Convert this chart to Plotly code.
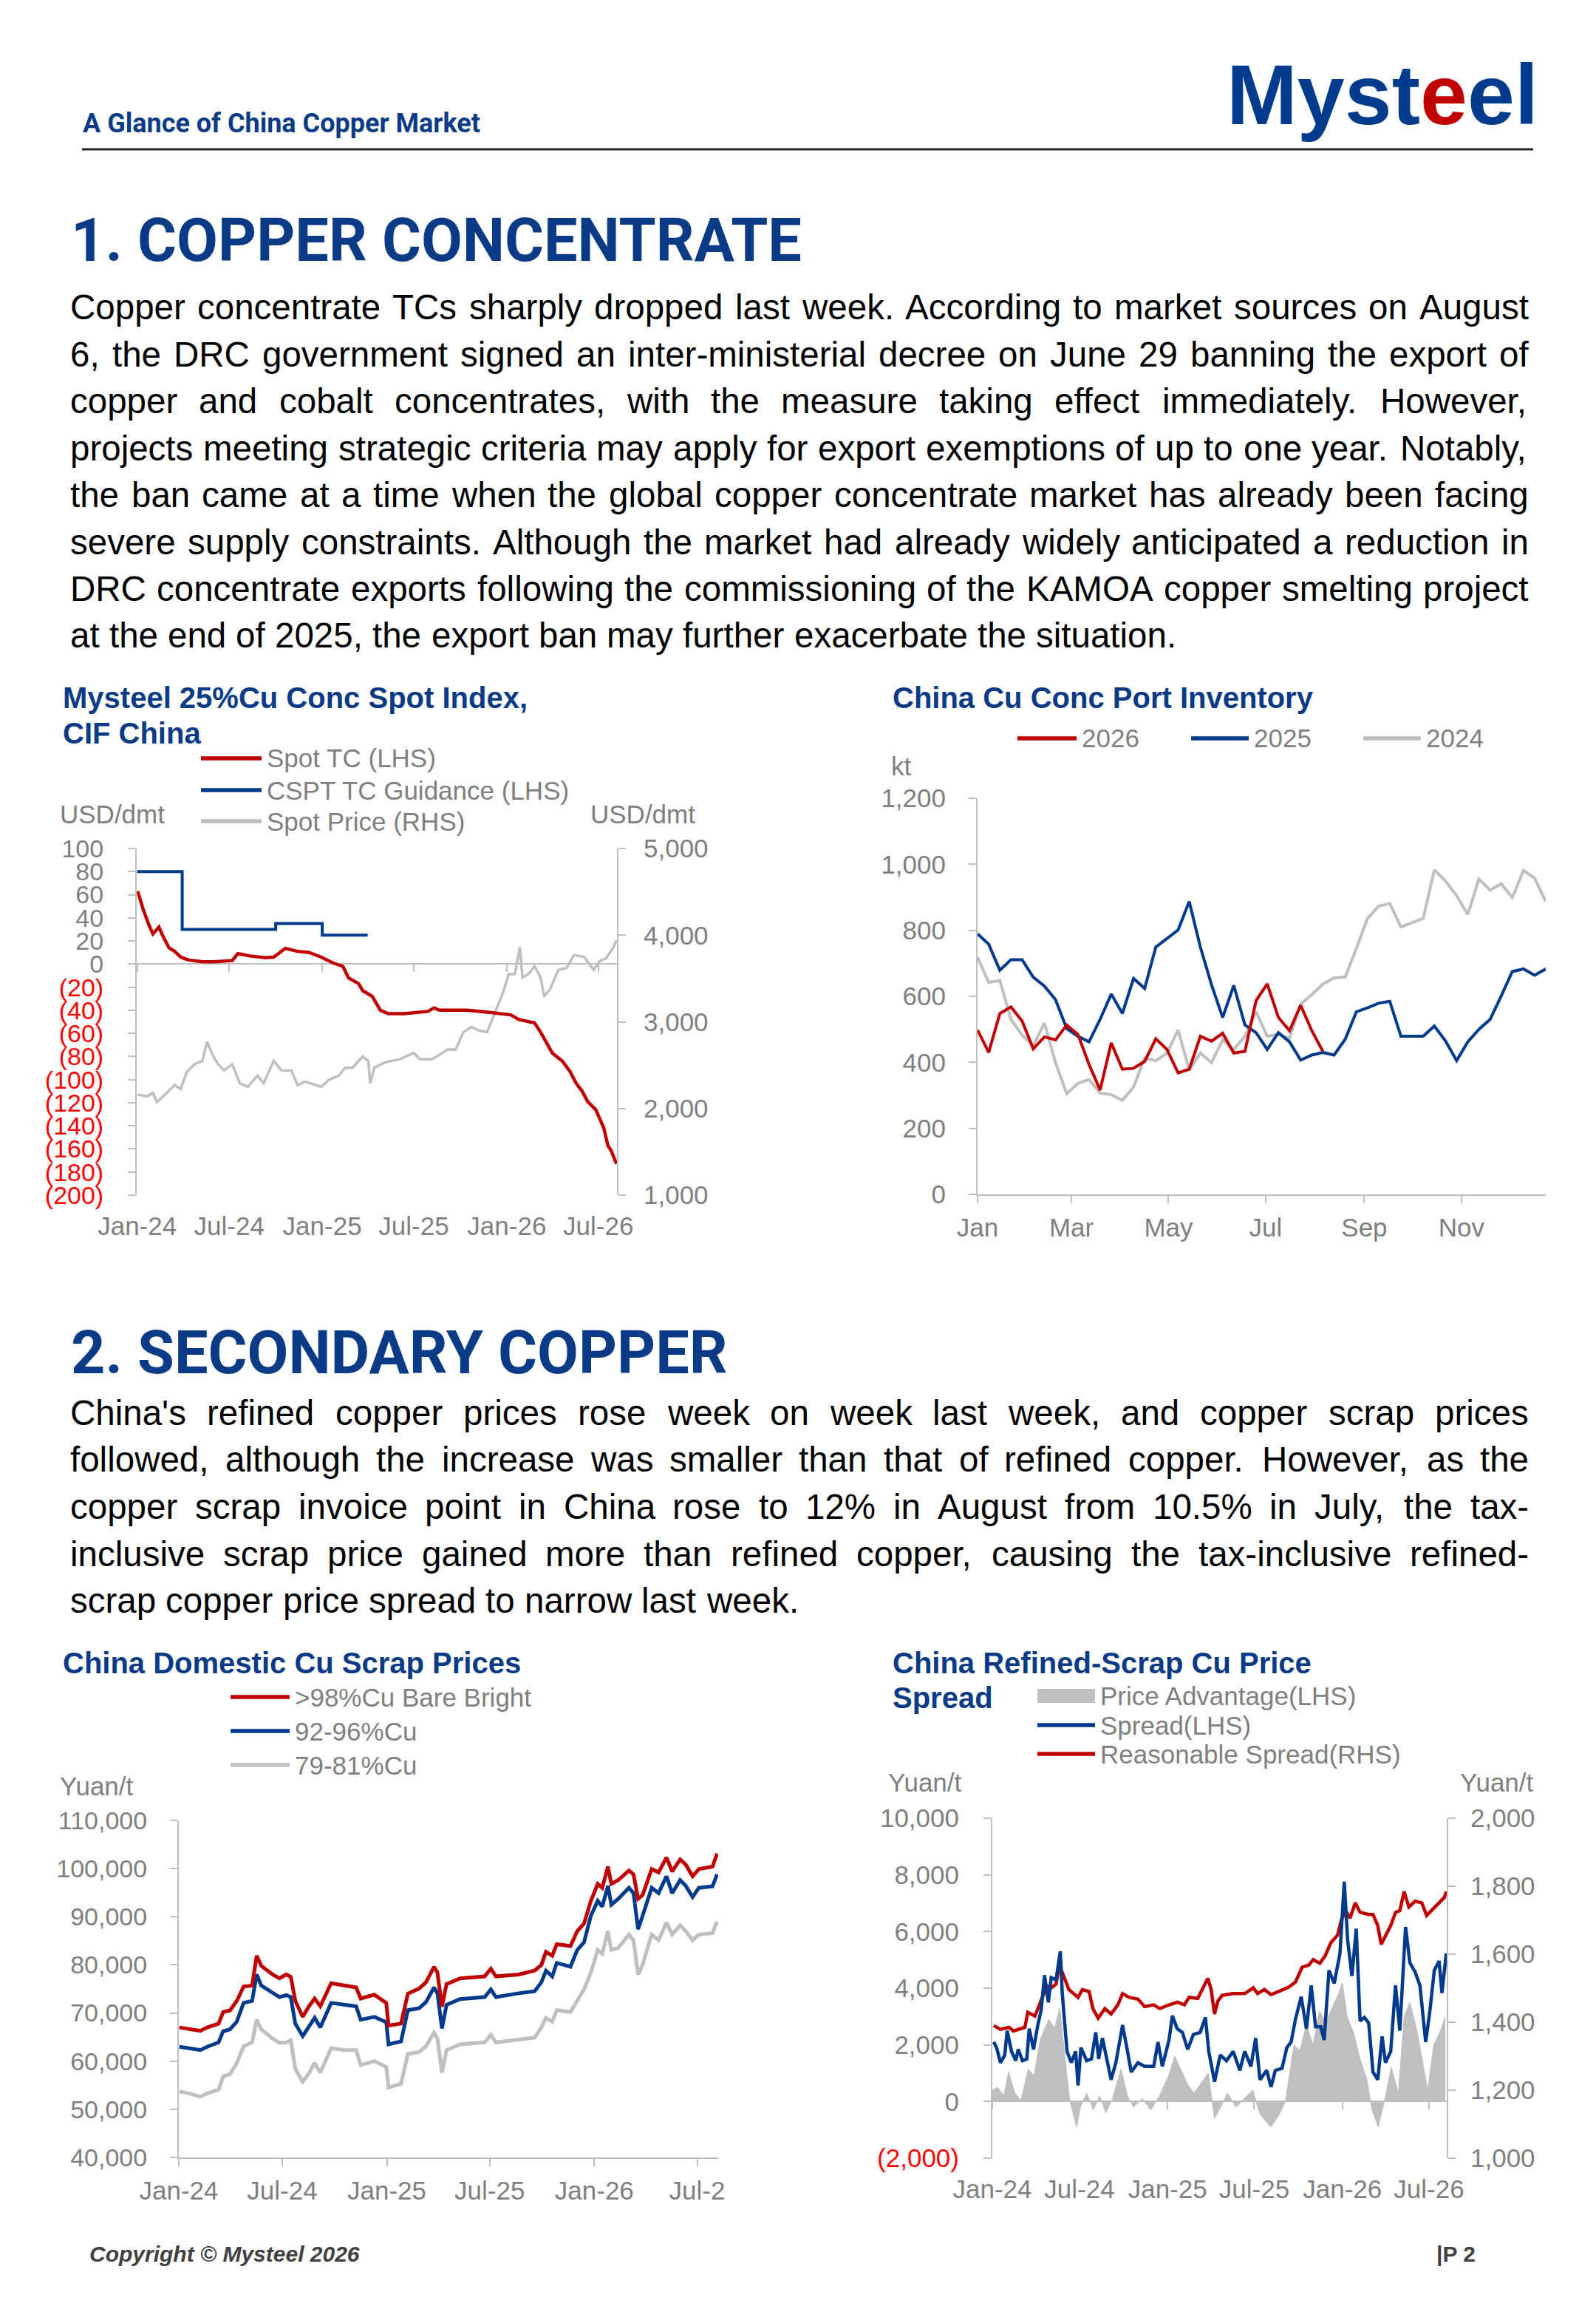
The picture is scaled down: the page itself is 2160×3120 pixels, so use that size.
import datetime as dt
import plotly.graph_objects as go

W, H = 2160, 3120


def px(x):
    return x / W


def py(y):
    return 1 - y / H


NAVY = '#0B3A86'
RED = '#C00000'
BLUE = '#003A8C'
GREY = '#BFBFBF'
TXT = '#7F7F7F'
BODY_FONT = 'Liberation Sans, Arial, sans-serif'
HEAD_FONT = 'Roboto, Liberation Sans, sans-serif'

# ---------------- chart 1: spot index ----------------
spot_tc_dates = ['2024-01-02', '2024-01-13', '2024-01-24', '2024-02-01', '2024-02-13', '2024-02-21', '2024-03-04',
                 '2024-03-15', '2024-03-27', '2024-04-12', '2024-05-09', '2024-06-01', '2024-07-07', '2024-07-18',
                 '2024-08-11', '2024-09-11', '2024-09-27', '2024-10-20', '2024-11-13', '2024-12-06', '2024-12-30',
                 '2025-01-22', '2025-02-11', '2025-02-22', '2025-03-14', '2025-03-22', '2025-04-10', '2025-04-26',
                 '2025-05-12', '2025-06-12', '2025-07-29', '2025-08-10', '2025-08-21', '2025-10-15', '2025-12-01',
                 '2026-01-09', '2026-01-25', '2026-02-25', '2026-03-09', '2026-03-20', '2026-04-01', '2026-04-21',
                 '2026-05-06', '2026-05-18', '2026-05-30', '2026-06-10', '2026-06-26', '2026-07-12', '2026-07-20',
                 '2026-07-27', '2026-08-06']
spot_tc = [63, 47, 34, 26, 32, 24, 14, 11, 6, 3.5, 2, 2, 3, 9, 7, 5.5, 6, 13.6, 11, 10, 6,
           1, -2, -12, -17, -23, -28, -40, -43, -43, -41, -38, -40, -40, -42,
           -44, -48, -51, -59, -67, -77, -84, -93, -103, -110, -119, -126, -142, -157, -162, -173]

cspt_dates = ['2024-01-01', '2024-03-30', '2024-10-01', '2025-01-01', '2025-04-01']
cspt_tc = [80, 30, 35, 25, 25]

spot_price_dates = ['2024-01-02', '2024-01-21', '2024-02-01', '2024-02-09', '2024-02-25', '2024-03-15', '2024-03-27',
                    '2024-04-08', '2024-04-23', '2024-05-09', '2024-05-18', '2024-05-29', '2024-06-09', '2024-06-21',
                    '2024-07-07', '2024-07-22', '2024-08-07', '2024-08-26', '2024-09-07', '2024-09-27', '2024-10-12',
                    '2024-11-01', '2024-11-13', '2024-11-28', '2024-12-30', '2025-01-14', '2025-02-03', '2025-02-15',
                    '2025-03-02', '2025-03-22', '2025-04-02', '2025-04-06', '2025-04-14', '2025-05-04', '2025-06-04',
                    '2025-07-01', '2025-07-13', '2025-08-06', '2025-08-21', '2025-09-06', '2025-09-22', '2025-10-07',
                    '2025-10-23', '2025-11-07', '2025-11-23', '2025-12-09', '2025-12-24', '2026-01-05', '2026-01-17',
                    '2026-01-27', '2026-02-01', '2026-02-13', '2026-02-25', '2026-03-09', '2026-03-16', '2026-03-28',
                    '2026-04-13', '2026-04-29', '2026-05-14', '2026-06-03', '2026-06-22', '2026-07-04', '2026-07-16',
                    '2026-07-31', '2026-08-06']
spot_price = [2160, 2140, 2180, 2075, 2160, 2270, 2225, 2420, 2510, 2550, 2770, 2620, 2510, 2440, 2510, 2290,
              2250, 2380, 2290, 2550, 2440, 2440, 2270, 2310, 2250, 2330, 2380, 2470, 2470, 2600, 2550, 2290,
              2470, 2530, 2570, 2640, 2570, 2570, 2620, 2680, 2680, 2880, 2940, 2900, 2880, 3120, 3330, 3550,
              3550, 3860, 3510, 3550, 3640, 3510, 3290, 3380, 3600, 3620, 3770, 3750, 3600, 3700, 3730, 3860, 3940]

ticks_6m = ['2024-01-01', '2024-07-01', '2025-01-01', '2025-07-01', '2026-01-01', '2026-07-01']
ticks_6m_text = ['Jan-24', 'Jul-24', 'Jan-25', 'Jul-25', 'Jan-26', 'Jul-26']

# ---------------- chart 2: port inventory (weekly, kt) ----------------
inv_2026 = [498, 430, 548, 568, 525, 441, 477, 468, 513, 485, 394, 316, 459, 379, 382, 403, 471, 439, 368, 379,
            479, 464, 488, 428, 433, 587, 638, 536, 496, 573, 496, 433]
inv_2025 = [789, 758, 679, 711, 711, 658, 631, 590, 502, 479, 462, 530, 607, 548, 654, 624, 749, 776, 801, 887,
            749, 635, 536, 633, 513, 490, 439, 490, 462, 407, 422, 430, 422, 470, 553, 565, 579, 585, 479, 479,
            479, 510, 465, 405, 462, 500, 530, 601, 675, 683, 664, 683]
inv_2024 = [719, 642, 648, 530, 482, 451, 519, 399, 305, 336, 348, 307, 302, 285, 325, 413, 405, 428, 498, 376,
            428, 399, 468, 439, 479, 553, 479, 485, 473, 576, 605, 637, 656, 658, 745, 836, 873, 881, 810, 824,
            836, 983, 949, 905, 848, 955, 922, 941, 899, 981, 958, 887]
month_ticks = ['2025-01-01', '2025-03-01', '2025-05-01', '2025-07-01', '2025-09-01', '2025-11-01']
month_text = ['Jan', 'Mar', 'May', 'Jul', 'Sep', 'Nov']

# ---------------- chart 3: scrap prices ----------------
scrap_dates = ['2024-01-02', '2024-01-19', '2024-02-08', '2024-02-20', '2024-03-11', '2024-03-19', '2024-03-31',
               '2024-04-12', '2024-04-24', '2024-05-09', '2024-05-17', '2024-05-25', '2024-06-14', '2024-06-26',
               '2024-07-08', '2024-07-16', '2024-07-24', '2024-08-06', '2024-08-17', '2024-08-27', '2024-09-06',
               '2024-09-25', '2024-10-19', '2024-11-08', '2024-11-16', '2024-12-10', '2024-12-31', '2025-01-04',
               '2025-01-26', '2025-02-07', '2025-02-27', '2025-03-11', '2025-03-25', '2025-03-31', '2025-04-08',
               '2025-04-16', '2025-05-10', '2025-06-22', '2025-07-03', '2025-07-12', '2025-08-21', '2025-09-18',
               '2025-09-30', '2025-10-08', '2025-10-19', '2025-10-27', '2025-11-20', '2025-12-02', '2025-12-14',
               '2025-12-26', '2026-01-07', '2026-01-15', '2026-01-25', '2026-01-31', '2026-02-12', '2026-03-03',
               '2026-03-11', '2026-03-19', '2026-03-27', '2026-04-12', '2026-04-24', '2026-05-08', '2026-05-18',
               '2026-06-01', '2026-06-11', '2026-06-23', '2026-07-04', '2026-07-28', '2026-08-05']
bare_bright = [67000, 66700, 66300, 67000, 67800, 70200, 70500, 72500, 75500, 75700,
               81900, 79800, 78000, 77200, 78000, 77500, 72500, 69200, 71400, 73000,
               71400, 76200, 75700, 75300, 73000, 73800, 72100, 67400, 67800, 74000,
               75100, 76400, 79600, 78400, 71300, 76000, 77200, 77600, 79200, 77600,
               78000, 78800, 80000, 82700, 81900, 84300, 83900, 87000, 88600, 93300,
               96800, 96000, 100400, 96800, 97600, 99600, 98800, 93700, 94500, 99900,
               99200, 102300, 99400, 101900, 100800, 98400, 99900, 100400, 103100]
cu_92_96 = [63000, 62700, 62300, 63000, 63900, 66200, 66600, 68200, 72100, 72500,
            78000, 75700, 74100, 73300, 73700, 73300, 67800, 65200, 67200, 69000,
            67000, 72100, 71700, 71400, 68600, 69200, 68100, 63500, 64100, 70600,
            71000, 72300, 75300, 74100, 66800, 71700, 72900, 73300, 74900, 73300,
            74100, 74500, 76400, 78800, 77600, 80400, 79600, 83100, 84700, 90200,
            93300, 92100, 96400, 92500, 93700, 96000, 94900, 87400, 90200, 96000,
            94900, 98400, 94900, 97600, 96400, 94100, 96000, 96300, 98800]
cu_79_81 = [53700, 53300, 52600, 53300, 54100, 56800, 57300, 59600, 63100, 63900,
            68600, 66600, 64700, 63800, 63900, 64300, 58400, 55700, 57500, 59600,
            57600, 62700, 62300, 62300, 59200, 60000, 58800, 54500, 55300, 61500,
            61900, 63100, 65900, 64700, 57600, 62300, 63500, 63900, 65500, 63900,
            64500, 64900, 67000, 69000, 68200, 70600, 70200, 72500, 74900, 78400,
            83100, 82300, 87000, 83100, 83500, 86300, 85100, 78000, 80000, 86300,
            85100, 88800, 86300, 88200, 87000, 85100, 86300, 86600, 89000]
scrap_tick_text = ['Jan-24', 'Jul-24', 'Jan-25', 'Jul-25', 'Jan-26', 'Jul-2']

# ---------------- chart 4: refined-scrap spread ----------------
spread_dates = ['2024-01-04', '2024-01-10', '2024-01-18', '2024-01-27', '2024-02-01', '2024-02-10', '2024-02-19',
                '2024-02-24', '2024-03-04', '2024-03-13', '2024-03-18', '2024-03-27', '2024-04-05', '2024-04-12',
                '2024-04-19', '2024-04-27', '2024-05-03', '2024-05-13', '2024-05-22', '2024-05-26', '2024-06-05',
                '2024-06-14', '2024-06-23', '2024-06-28', '2024-07-04', '2024-07-16', '2024-07-26', '2024-08-04',
                '2024-08-10', '2024-08-18', '2024-08-27', '2024-09-05', '2024-09-15', '2024-09-29', '2024-10-08',
                '2024-10-17', '2024-10-31', '2024-11-14', '2024-12-03', '2024-12-12', '2024-12-21', '2025-01-04',
                '2025-01-11', '2025-01-21', '2025-02-01', '2025-02-12', '2025-02-24', '2025-03-10', '2025-03-21',
                '2025-03-28', '2025-04-09', '2025-04-21', '2025-05-04', '2025-05-18', '2025-06-01', '2025-06-11',
                '2025-06-24', '2025-07-04', '2025-07-13', '2025-07-27', '2025-08-05', '2025-08-14', '2025-08-28',
                '2025-09-07', '2025-09-16', '2025-09-25', '2025-10-07', '2025-10-18', '2025-10-28', '2025-11-06',
                '2025-11-17', '2025-11-24', '2025-12-04', '2025-12-15', '2025-12-27', '2026-01-05', '2026-01-12',
                '2026-01-21', '2026-01-30', '2026-02-07', '2026-02-16', '2026-02-25', '2026-03-06', '2026-03-16',
                '2026-03-25', '2026-04-01', '2026-04-12', '2026-04-22', '2026-05-01', '2026-05-13', '2026-05-22',
                '2026-06-02', '2026-06-12', '2026-06-24', '2026-07-03', '2026-07-12', '2026-07-22', '2026-07-28',
                '2026-08-06']
spread = [2100, 1900, 1370, 1640, 2500, 1770, 1440, 1840, 1440, 1500,
          2570, 1840, 2700, 3230, 4460, 3500, 4370, 4300, 5300, 3830,
          1770, 1370, 1770, 570, 1900, 1440, 1500, 2440, 1500, 2240,
          1500, 770, 1370, 2700, 1900, 1040, 1370, 1240, 1240, 2100,
          1240, 2170, 3030, 2570, 2440, 1840, 2370, 2440, 2970, 1770,
          700, 1640, 1440, 1770, 1100, 1770, 1240, 2240, 770, 1100,
          510, 1100, 1170, 1900, 2100, 2900, 3700, 2570, 4100, 2640,
          2640, 2170, 4630, 4170, 5230, 7760, 5700, 4430, 6100, 2840,
          2970, 2770, 1040, 770, 2300, 1370, 1770, 4100, 2500, 6160,
          4900, 4570, 4100, 2100, 3230, 4630, 4960, 3830, 5230]

adv_dates = ['2024-01-01', '2024-01-12', '2024-01-25', '2024-02-04', '2024-02-17', '2024-03-01', '2024-03-16',
             '2024-03-28', '2024-04-10', '2024-04-28', '2024-05-10', '2024-05-21', '2024-06-01', '2024-06-11',
             '2024-06-25', '2024-07-03', '2024-07-16', '2024-07-30', '2024-08-12', '2024-08-25', '2024-09-08',
             '2024-09-26', '2024-10-09', '2024-10-22', '2024-11-09', '2024-11-27', '2024-12-15', '2025-01-03',
             '2025-01-16', '2025-01-30', '2025-02-12', '2025-02-25', '2025-03-14', '2025-03-27', '2025-04-09',
             '2025-04-22', '2025-05-06', '2025-05-24', '2025-06-10', '2025-06-28', '2025-07-12', '2025-07-25',
             '2025-08-05', '2025-08-21', '2025-09-04', '2025-09-22', '2025-10-04', '2025-10-18', '2025-11-01',
             '2025-11-14', '2025-11-27', '2025-12-10', '2025-12-24', '2026-01-01', '2026-01-11', '2026-01-25',
             '2026-02-07', '2026-02-21', '2026-03-04', '2026-03-17', '2026-03-31', '2026-04-13', '2026-04-28',
             '2026-05-10', '2026-05-22', '2026-06-06', '2026-06-19', '2026-06-28', '2026-07-11', '2026-07-25',
             '2026-08-04']
advantage = [400, 500, 200, 1050, 300, 50, 1150, 900, 2200, 2900,
             2600, 3300, 1500, 0, -900, -200, 300, -300, 200, -400,
             100, 1150, 200, -200, 100, -300, 200, 900, 1600, 1100,
             600, 300, 700, 1000, -600, -200, 300, -200, 100, 400,
             -400, -700, -900, -500, 0, 2000, 1800, 2700, 2000, 3200,
             2800, 3300, 3800, 4200, 3000, 2400, 1500, 800, -300, -900,
             100, 1200, 300, 3000, 3500, 2500, 1200, 400, 2000, 2500,
             3000]

reas_dates = ['2024-01-04', '2024-01-18', '2024-02-05', '2024-02-14', '2024-03-09', '2024-03-15', '2024-03-30',
              '2024-04-10', '2024-04-24', '2024-05-03', '2024-05-13', '2024-05-20', '2024-05-28', '2024-06-09',
              '2024-06-28', '2024-07-07', '2024-07-21', '2024-07-29', '2024-08-09', '2024-08-23', '2024-09-05',
              '2024-09-19', '2024-09-29', '2024-10-13', '2024-10-31', '2024-11-14', '2024-12-03', '2024-12-16',
              '2025-01-04', '2025-01-22', '2025-02-05', '2025-02-15', '2025-03-05', '2025-03-14', '2025-03-26',
              '2025-04-02', '2025-04-09', '2025-04-16', '2025-04-25', '2025-05-18', '2025-06-11', '2025-06-29',
              '2025-07-08', '2025-07-22', '2025-08-05', '2025-08-24', '2025-09-11', '2025-09-25', '2025-10-09',
              '2025-10-23', '2025-11-01', '2025-11-15', '2025-11-26', '2025-12-08', '2025-12-22', '2025-12-30',
              '2026-01-08', '2026-01-17', '2026-01-28', '2026-02-07', '2026-02-25', '2026-03-06', '2026-03-16',
              '2026-03-23', '2026-04-01', '2026-04-12', '2026-04-22', '2026-05-01', '2026-05-10', '2026-05-20',
              '2026-06-02', '2026-06-16', '2026-06-26', '2026-07-10', '2026-07-24', '2026-08-02', '2026-08-06']
reasonable = [1390, 1379, 1385, 1374, 1385, 1429, 1418, 1457, 1507, 1501,
              1512, 1568, 1540, 1496, 1473, 1496, 1490, 1440, 1412, 1440,
              1424, 1451, 1484, 1473, 1468, 1446, 1451, 1440, 1451, 1459,
              1451, 1473, 1470, 1496, 1529, 1496, 1424, 1462, 1479, 1484,
              1484, 1501, 1484, 1496, 1481, 1492, 1503, 1518, 1562, 1568,
              1584, 1573, 1595, 1634, 1656, 1701, 1728, 1706, 1751, 1723,
              1717, 1717, 1684, 1629, 1656, 1684, 1723, 1728, 1784, 1739,
              1756, 1751, 1714, 1734, 1756, 1767, 1784]

# ---------------- page text ----------------
para1 = [
    "Copper concentrate TCs sharply dropped last week. According to market sources on August",
    "6, the DRC government signed an inter-ministerial decree on June 29 banning the export of",
    "copper and cobalt concentrates, with the measure taking effect immediately. However,",
    "projects meeting strategic criteria may apply for export exemptions of up to one year. Notably,",
    "the ban came at a time when the global copper concentrate market has already been facing",
    "severe supply constraints. Although the market had already widely anticipated a reduction in",
    "DRC concentrate exports following the commissioning of the KAMOA copper smelting project",
    "at the end of 2025, the export ban may further exacerbate the situation.",
]
para2 = [
    "China's refined copper prices rose week on week last week, and copper scrap prices",
    "followed, although the increase was smaller than that of refined copper. However, as the",
    "copper scrap invoice point in China rose to 12% in August from 10.5% in July, the tax-",
    "inclusive scrap price gained more than refined copper, causing the tax-inclusive refined-",
    "scrap copper price spread to narrow last week.",
]

# Arial / Liberation Sans advance widths (1/1000 em), used to justify the paragraphs
CHAR_W = {' ': 278, ',': 278, '.': 278, '-': 333, "'": 191, '%': 889, '(': 333, ')': 333}
CHAR_W.update({c: 556 for c in '0123456789'})
CHAR_W.update(dict(zip('abcdefghijklmnopqrstuvwxyz',
                       [556, 556, 500, 556, 556, 278, 556, 556, 222, 222, 500, 222, 833, 556, 556, 556, 556, 333,
                        500, 278, 556, 500, 722, 500, 500, 500])))
CHAR_W.update(dict(zip('ABCDEFGHIJKLMNOPQRSTUVWXYZ',
                       [667, 667, 722, 722, 667, 611, 778, 722, 278, 500, 667, 556, 833, 722, 778, 667, 778, 722,
                        667, 611, 722, 667, 944, 667, 667, 611])))


def text_width(s, size):
    return sum(CHAR_W.get(c, 556) for c in s) * size / 1000


annotations = []
shapes = []


def label(x, y, text, size=35, color=TXT, anchor='left', family=BODY_FONT, weight='normal', style='normal'):
    annotations.append(dict(x=px(x), y=py(y), xref='paper', yref='paper', text=text, showarrow=False,
                            xanchor=anchor, yanchor='middle', borderpad=0,
                            font=dict(size=size, color=color, family=family, weight=weight, style=style)))


def paragraph(lines, y0, step, x0=94, x1=2068, size=47.5):
    for i, line in enumerate(lines):
        words = line.split(' ')
        widths = [text_width(w, size) for w in words]
        if i == len(lines) - 1:
            gap = CHAR_W[' '] * size / 1000
        else:
            gap = (x1 - x0 - sum(widths)) / (len(words) - 1)
        x = x0
        for w, wd in zip(words, widths):
            label(x, y0 + i * step, w, size=size, color='black')
            x += wd + gap


def legend_line(x0, x1, y, color, text, width=5.5):
    shapes.append(dict(type='line', xref='paper', yref='paper', x0=px(x0), x1=px(x1), y0=py(y), y1=py(y),
                       line=dict(color=color, width=width)))
    label(x1 + 6, y, text)


fig = go.Figure()

# chart 1
fig.add_trace(go.Scatter(x=spot_price_dates, y=spot_price, xaxis='x', yaxis='y2', mode='lines',
                         line=dict(color=GREY, width=3.5), name='Spot Price (RHS)'))
fig.add_trace(go.Scatter(x=cspt_dates, y=cspt_tc, xaxis='x', yaxis='y', mode='lines',
                         line=dict(color=BLUE, width=4, shape='hv'), name='CSPT TC Guidance (LHS)'))
fig.add_trace(go.Scatter(x=spot_tc_dates, y=spot_tc, xaxis='x2', yaxis='y', mode='lines',
                         line=dict(color=RED, width=4.5), name='Spot TC (LHS)'))

# chart 2: weekly readings plotted on a common calendar year
base = dt.date(2025, 1, 1)
week_dates = [(base + dt.timedelta(days=7 * i)).isoformat() for i in range(52)]
fig.add_trace(go.Scatter(x=week_dates[:len(inv_2024)], y=inv_2024, xaxis='x3', yaxis='y3', mode='lines',
                         line=dict(color=GREY, width=4), name='2024'))
fig.add_trace(go.Scatter(x=week_dates[:len(inv_2025)], y=inv_2025, xaxis='x3', yaxis='y3', mode='lines',
                         line=dict(color=BLUE, width=4), name='2025'))
fig.add_trace(go.Scatter(x=week_dates[:len(inv_2026)], y=inv_2026, xaxis='x3', yaxis='y3', mode='lines',
                         line=dict(color=RED, width=4), name='2026'))

# chart 3
for vals, col, nm in [(cu_79_81, GREY, '79-81%Cu'), (cu_92_96, BLUE, '92-96%Cu'),
                      (bare_bright, RED, '>98%Cu Bare Bright')]:
    fig.add_trace(go.Scatter(x=scrap_dates, y=vals, xaxis='x4', yaxis='y4', mode='lines',
                             line=dict(color=col, width=5), name=nm))

# chart 4
fig.add_trace(go.Scatter(x=adv_dates, y=advantage, xaxis='x5', yaxis='y5', mode='lines', fill='tozeroy',
                         fillcolor=GREY, line=dict(color=GREY, width=1), name='Price Advantage(LHS)'))
fig.add_trace(go.Scatter(x=spread_dates, y=spread, xaxis='x6', yaxis='y5', mode='lines',
                         line=dict(color=BLUE, width=4.5), name='Spread(LHS)'))
fig.add_trace(go.Scatter(x=reas_dates, y=reasonable, xaxis='x5', yaxis='y6', mode='lines',
                         line=dict(color=RED, width=4.5), name='Reasonable Spread(RHS)'))

fig.update_traces(showlegend=False, hoverinfo='skip')

ax = dict(showgrid=False, zeroline=False, linecolor=GREY, linewidth=2, tickcolor=GREY, tickwidth=2,
          tickfont=dict(size=35, color=TXT), layer='below traces', automargin=False)

# chart 1 axes
c1_x = [px(185), px(835)]
c1_y = [py(1617), py(1148)]
c1_range = ['2023-12-31', '2026-08-07']
c1_zero = c1_y[0] + (0 - (-200)) / 300 * (c1_y[1] - c1_y[0])
c1_ticks = list(range(-200, 101, 20))
c1_text = [str(v) if v >= 0 else f"<span style='color:#FF0000'>({-v})</span>" for v in c1_ticks]

# chart 4 axes
c4_y = [py(2920), py(2460)]
c4_zero = c4_y[0] + 2000 / 12000 * (c4_y[1] - c4_y[0])
c4_ticks = list(range(-2000, 10001, 2000))
c4_text = [f'{v:,}' if v >= 0 else f"<span style='color:#FF0000'>({-v:,})</span>" for v in c4_ticks]

fig.update_layout(
    width=W, height=H, margin=dict(l=0, r=0, t=0, b=0, pad=0), autosize=False,
    paper_bgcolor='white', plot_bgcolor='white', showlegend=False,
    font=dict(family=BODY_FONT, color=TXT, size=35),
    xaxis=dict(ax, domain=c1_x, range=c1_range, anchor='y', type='date', tickvals=ticks_6m, ticktext=ticks_6m_text,
               showline=False, ticks='', ticklabelstandoff=18),
    xaxis2=dict(ax, overlaying='x', anchor='free', position=c1_zero, range=c1_range, type='date',
                tickvals=ticks_6m, showticklabels=False, showline=True, ticks='outside', ticklen=10),
    yaxis=dict(ax, domain=c1_y, range=[-200, 100], anchor='x', tickvals=c1_ticks, ticktext=c1_text,
               showline=True, ticks='outside', ticklen=10, ticklabelstandoff=26,
               tickfont=dict(size=34, color=TXT)),
    yaxis2=dict(ax, overlaying='y', side='right', anchor='x', range=[1000, 5000],
                tickvals=[1000, 2000, 3000, 4000, 5000], tickformat=',', showline=True, ticks='outside',
                ticklen=10, ticklabelstandoff=17),
    xaxis3=dict(ax, domain=[px(1323), px(2092)], range=['2025-01-01', '2025-12-24'], anchor='y3', type='date',
                tickvals=month_ticks, ticktext=month_text, showline=True, ticks='outside', ticklen=10,
                ticklabelstandoff=3),
    yaxis3=dict(ax, domain=[py(1616), py(1080)], range=[0, 1200], anchor='x3', dtick=200, tickformat=',',
                showline=True, ticks='outside', ticklen=10, ticklabelstandoff=24),
    xaxis4=dict(ax, domain=[px(242), px(972)], range=['2024-01-01', '2026-08-07'], anchor='y4', type='date',
                tickvals=ticks_6m, ticktext=scrap_tick_text, showline=True, ticks='outside', ticklen=10,
                ticklabelstandoff=3),
    yaxis4=dict(ax, domain=[py(2919), py(2463)], range=[40000, 110000], anchor='x4', dtick=10000, tickformat=',',
                showline=True, ticks='outside', ticklen=10, ticklabelstandoff=24,
                tickfont=dict(size=34, color=TXT)),
    xaxis5=dict(ax, domain=[px(1343), px(1958)], range=['2024-01-01', '2026-08-07'], anchor='y5', type='date',
                tickvals=ticks_6m, ticktext=ticks_6m_text, showline=False, ticks='', ticklabelstandoff=18),
    xaxis6=dict(ax, overlaying='x5', anchor='free', position=c4_zero, range=['2024-01-01', '2026-08-07'],
                type='date', tickvals=ticks_6m, showticklabels=False, showline=True, ticks='outside', ticklen=10),
    yaxis5=dict(ax, domain=c4_y, range=[-2000, 10000], anchor='x5', tickvals=c4_ticks, ticktext=c4_text,
                showline=True, ticks='outside', ticklen=10, ticklabelstandoff=26),
    yaxis6=dict(ax, overlaying='y5', side='right', anchor='x5', range=[1000, 2000], dtick=200, tickformat=',',
                showline=True, ticks='outside', ticklen=10, ticklabelstandoff=13),
)

# header
label(111, 167, 'A Glance of China Copper Market', size=36, color=NAVY, family=HEAD_FONT, weight='bold')
label(2083, 128, "Myst<span style='color:#C00000'>e</span>el", size=115, color='#003B8E', anchor='right',
      family=BODY_FONT, weight='bold')
shapes.append(dict(type='line', xref='paper', yref='paper', x0=px(111), x1=px(2075), y0=py(202), y1=py(202),
                   line=dict(color='#262626', width=3)))

# sections
label(95, 326, '1. COPPER CONCENTRATE', size=81, color=NAVY, family=HEAD_FONT, weight='bold')
paragraph(para1, 416, 63.4)
label(95, 1830, '2. SECONDARY COPPER', size=81, color=NAVY, family=HEAD_FONT, weight='bold')
paragraph(para2, 1911, 63.7)

# chart titles
for x, y, t in [(84, 944, 'Mysteel 25%Cu Conc Spot Index,'), (84, 992, 'CIF China'),
                (1207, 944, 'China Cu Conc Port Inventory'), (84, 2250, 'China Domestic Cu Scrap Prices'),
                (1207, 2250, 'China Refined-Scrap Cu Price'), (1207, 2297, 'Spread')]:
    label(x, y, t, size=40, color=NAVY, weight='bold')

# legends
legend_line(272, 354, 1026, RED, 'Spot TC (LHS)')
legend_line(272, 354, 1069, BLUE, 'CSPT TC Guidance (LHS)')
legend_line(272, 354, 1111, GREY, 'Spot Price (RHS)')
legend_line(1377, 1457, 999, RED, '2026')
legend_line(1612, 1690, 999, BLUE, '2025')
legend_line(1845, 1923, 999, GREY, '2024')
legend_line(312, 392, 2296, RED, '>98%Cu Bare Bright')
legend_line(312, 392, 2342, BLUE, '92-96%Cu')
legend_line(312, 392, 2388, GREY, '79-81%Cu')
shapes.append(dict(type='rect', xref='paper', yref='paper', x0=px(1404), x1=px(1482), y0=py(2304), y1=py(2285),
                   fillcolor=GREY, line=dict(width=0)))
label(1488, 2294, 'Price Advantage(LHS)')
legend_line(1404, 1482, 2334, BLUE, 'Spread(LHS)')
legend_line(1404, 1482, 2373, RED, 'Reasonable Spread(RHS)')

# axis units
label(80, 1101, 'USD/dmt')
label(798, 1101, 'USD/dmt')
label(1205, 1037, 'kt')
label(80, 2416, 'Yuan/t')
label(1201, 2411, 'Yuan/t')
label(2077, 2411, 'Yuan/t', anchor='right')

# footer
label(120, 3049, 'Copyright © Mysteel 2026', size=30, color='#404040', family=BODY_FONT, weight='bold',
      style='italic')
label(1998, 3049, '|P 2', size=30, color='#404040', anchor='right', family=BODY_FONT, weight='bold')

fig.update_layout(annotations=annotations, shapes=shapes)

fig.write_html("out.html", config={'displayModeBar': False},
               post_script="document.body.style.margin='0';")
